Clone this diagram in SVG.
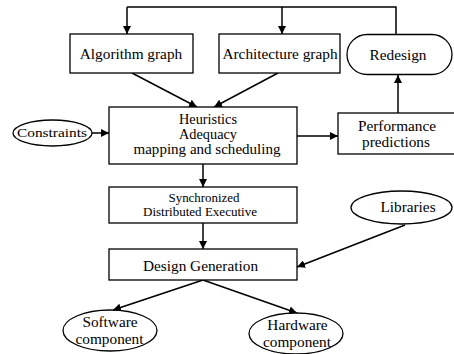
<svg xmlns="http://www.w3.org/2000/svg" width="454" height="354" viewBox="0 0 454 354">
<defs>
<marker id="ah" viewBox="0 0 10 10" refX="10" refY="5" markerWidth="8" markerHeight="8" markerUnits="userSpaceOnUse" orient="auto">
<path d="M0,0 L10,5 L0,10 z" fill="#000"/>
</marker>
<style>
.box{fill:#fff;stroke:#000;stroke-width:1.3}
.ln{fill:none;stroke:#000;stroke-width:1.5}
.arr{fill:none;stroke:#000;stroke-width:1.5;marker-end:url(#ah)}
text{font-family:'Liberation Serif','DejaVu Serif',serif;fill:#000;text-anchor:middle}
.t15{font-size:15.3px}
.t14{font-size:14px}
.t12{font-size:12px}
</style>
</defs>
<rect width="454" height="354" fill="#fff"/>
<g id="connectors">
<polyline class="ln" points="396,34 396,7 127,7"/>
<line class="arr" x1="127" y1="7" x2="127" y2="34"/>
<line class="arr" x1="282" y1="7" x2="282" y2="34"/>
<line class="arr" x1="132" y1="73" x2="197" y2="107"/>
<line class="arr" x1="278" y1="73" x2="214" y2="107"/>
<line class="arr" x1="92" y1="133" x2="109" y2="133"/>
<line class="arr" x1="297" y1="136" x2="338" y2="136"/>
<line class="arr" x1="398" y1="113" x2="398" y2="75"/>
<line class="arr" x1="203" y1="164" x2="203" y2="187"/>
<line class="arr" x1="203" y1="223" x2="203" y2="249"/>
<line class="arr" x1="405" y1="225" x2="297" y2="267"/>
<line class="arr" x1="203" y1="280" x2="113" y2="310"/>
<line class="arr" x1="203" y1="280" x2="297" y2="313"/>
</g>
<g id="algorithm">
<rect class="box" x="70" y="34" width="123" height="39"/>
<text class="t15" x="131" y="59">Algorithm graph</text>
</g>
<g id="architecture">
<rect class="box" x="219" y="34" width="121" height="39"/>
<text class="t15" x="280" y="59">Architecture graph</text>
</g>
<g id="redesign">
<rect class="box" x="347" y="34.5" width="105" height="40" rx="20" ry="20"/>
<text class="t15" x="398" y="60">Redesign</text>
</g>
<g id="constraints">
<ellipse class="box" cx="52.5" cy="133" rx="39.5" ry="13"/>
<text class="t12" x="52" y="137" textLength="70" lengthAdjust="spacingAndGlyphs">Constraints</text>
</g>
<g id="heuristics">
<rect class="box" x="109" y="107" width="188" height="57"/>
<text class="t14" x="208" y="124" textLength="58" lengthAdjust="spacingAndGlyphs">Heuristics</text>
<text class="t14" x="208" y="139" textLength="58" lengthAdjust="spacingAndGlyphs">Adequacy</text>
<text class="t14" x="207" y="154" textLength="147" lengthAdjust="spacingAndGlyphs">mapping and scheduling</text>
</g>
<g id="performance">
<rect class="box" x="338" y="113" width="120" height="41"/>
<text class="t15" x="397" y="131">Performance</text>
<text class="t15" x="396" y="147">predictions</text>
</g>
<g id="synchronized">
<rect class="box" x="109" y="187" width="188" height="36"/>
<text class="t12" x="204" y="201.5" textLength="71" lengthAdjust="spacingAndGlyphs">Synchronized</text>
<text class="t12" x="200" y="216" textLength="114" lengthAdjust="spacingAndGlyphs">Distributed Executive</text>
</g>
<g id="libraries">
<ellipse class="box" cx="401.5" cy="207.5" rx="50.5" ry="16.5"/>
<text class="t15" x="408" y="212">Libraries</text>
</g>
<g id="design">
<rect class="box" x="109" y="249" width="188" height="31"/>
<text class="t15" x="200.5" y="271">Design Generation</text>
</g>
<g id="software">
<ellipse class="box" cx="110" cy="330.5" rx="47" ry="20.5"/>
<text class="t15" x="110" y="327">Software</text>
<text class="t15" x="109.5" y="343.5">component</text>
</g>
<g id="hardware">
<ellipse class="box" cx="296" cy="333.5" rx="47" ry="20.5"/>
<text class="t15" x="297.5" y="330">Hardware</text>
<text class="t15" x="297" y="347">component</text>
</g>
</svg>
